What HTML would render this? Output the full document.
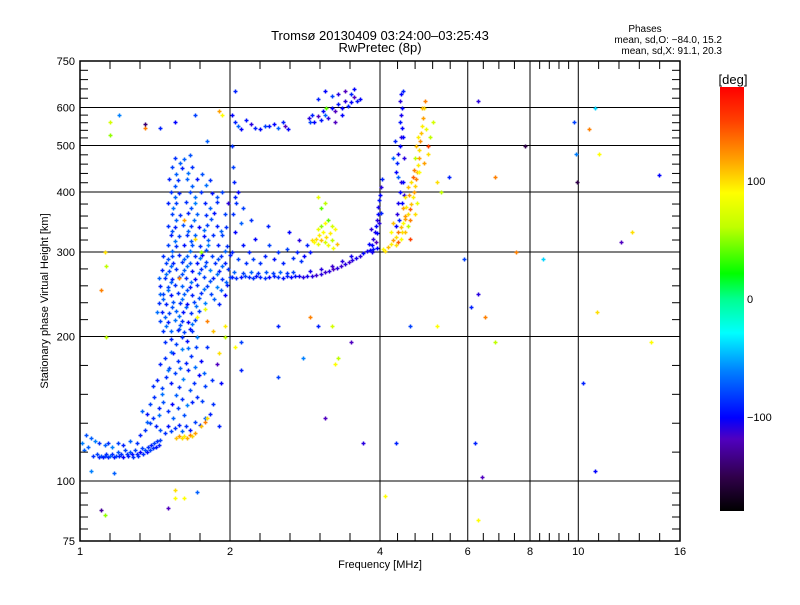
<!DOCTYPE html>
<html><head><meta charset="utf-8"><style>
body{margin:0;background:#fff;}
svg text{font-family:"Liberation Sans",sans-serif;fill:#000;}
</style></head><body>
<svg id="chart" width="800" height="600" xmlns="http://www.w3.org/2000/svg">
<defs>
<linearGradient id="cmap" x1="0" y1="1" x2="0" y2="0">
<stop offset="0" stop-color="#000000"/><stop offset="0.08" stop-color="#30004a"/><stop offset="0.17" stop-color="#5000c0"/><stop offset="0.22" stop-color="#0000ff"/><stop offset="0.33" stop-color="#0080ff"/><stop offset="0.42" stop-color="#00ffff"/><stop offset="0.5" stop-color="#00ff90"/><stop offset="0.56" stop-color="#00ff00"/><stop offset="0.67" stop-color="#c0ff00"/><stop offset="0.75" stop-color="#ffff00"/><stop offset="0.83" stop-color="#ffa000"/><stop offset="0.92" stop-color="#ff4000"/><stop offset="1" stop-color="#ff0000"/>
</linearGradient>
</defs>
<text x="380" y="40" font-size="13" text-anchor="middle">Tromsø 20130409 03:24:00–03:25:43</text>
<text x="380" y="52" font-size="13" text-anchor="middle">RwPretec (8p)</text>
<text x="645" y="32" font-size="10" text-anchor="middle">Phases</text>
<text x="722" y="43" font-size="10" text-anchor="end">mean, sd,O: −84.0, 15.2</text>
<text x="722" y="54" font-size="10" text-anchor="end">mean, sd,X:  91.1, 20.3</text>
<g id="grid"></g>
<g id="marks"></g>
<rect x="80" y="61" width="600" height="480" fill="none" stroke="#000" stroke-width="1.5"/>
<g id="axes"></g>
<text x="380" y="568" font-size="11" text-anchor="middle">Frequency [MHz]</text>
<text x="48" y="301" font-size="11" text-anchor="middle" transform="rotate(-90 48 301)">Stationary phase Virtual Height [km]</text>
<rect x="720" y="87" width="24" height="424" fill="url(#cmap)"/>
<text x="733" y="84" font-size="13" text-anchor="middle">[deg]</text>
<g id="cbar"></g>
</svg>
<script>
const xTicks=[1,2,4,6,8,10,16];
const xMinorDiv=[5,5,5,4,5,5];
const yTicks=[75,100,200,300,400,500,600,750];
const cbarTicks=[100,0,-100];
const lowTrace=[[1.01,120,-60],[1.02,116,-70],[1.03,125,-75],[1.04,118,-70],[1.06,113,-85],[1.08,114,-80],[1.09,112,-90],[1.10,113,-75],[1.11,112,-95],[1.12,113,-80],[1.13,114,-85],[1.14,112,-90],[1.15,113,-70],[1.16,114,-85],[1.17,112,-95],[1.18,113,-80],[1.19,115,-75],[1.20,113,-90],[1.21,114,-85],[1.22,112,-100],[1.23,116,-80],[1.24,114,-85],[1.25,113,-90],[1.26,115,-75],[1.27,114,-95],[1.28,112,-85],[1.29,116,-80],[1.30,114,-90],[1.31,113,-85],[1.32,115,-100],[1.33,117,-80],[1.34,114,-85],[1.35,116,-75],[1.36,115,-95],[1.37,118,-85],[1.38,116,-80],[1.39,119,-90],[1.40,117,-85],[1.41,120,-80],[1.42,118,-95],[1.43,121,-85],[1.44,119,-90],[1.45,122,-80],[1.05,123,-70],[1.07,121,-60],[1.09,120,-85],[1.12,119,-70],[1.14,120,-85],[1.16,118,-60],[1.19,120,-80],[1.22,119,-90],[1.26,121,-70],[1.30,120,-85]];
const lowerCloud=[[1.32,125,-90],[1.35,128,-85],[1.38,132,-80],[1.33,140,-70],[1.36,138,-95],[1.40,135,-85],[1.42,130,-90],[1.45,128,-75],[1.48,126,-85],[1.50,130,-95],[1.52,127,-80],[1.55,129,-85],[1.58,131,-90],[1.60,127,-70],[1.63,130,-85],[1.66,128,-95],[1.70,133,-80],[1.74,131,-85],[1.78,135,-70],[1.82,138,-90],[1.38,145,-80],[1.41,150,-85],[1.44,142,-90],[1.47,146,-75],[1.50,140,-85],[1.53,145,-100],[1.57,142,-80],[1.60,148,-85],[1.64,144,-60],[1.68,146,-90],[1.72,150,-85],[1.76,147,-80],[1.40,158,-85],[1.43,162,-90],[1.46,156,-80],[1.49,165,-85],[1.52,160,-95],[1.55,168,-80],[1.58,157,-85],[1.61,163,-60],[1.65,170,-90],[1.69,160,-85],[1.73,166,-100],[1.78,158,-80],[1.84,162,-85],[1.45,175,-90],[1.48,180,-85],[1.51,172,-80],[1.54,185,-95],[1.57,178,-85],[1.60,188,-60],[1.63,176,-90],[1.67,182,-85],[1.71,190,-80],[1.75,178,-100],[1.48,195,-85],[1.52,198,-90],[1.56,193,-80],[1.60,200,-85],[1.64,196,-95],[1.68,205,-85],[1.72,200,-60],[1.85,145,-85],[1.90,130,-90],[1.88,175,-120],[1.92,160,-100],[1.80,190,-85],[1.56,123,110],[1.58,124,120],[1.60,123,100],[1.62,124,95],[1.64,123,115],[1.66,125,130],[1.68,124,105],[1.70,126,120],[1.75,130,110],[1.78,133,130],[1.80,135,100],[1.72,220,90],[1.80,215,130],[1.85,205,110],[1.90,185,100],[1.78,228,80],[1.95,210,95],[1.36,133,-70],[1.44,137,-65],[1.54,135,-70],[1.62,137,-75],[1.46,152,-65],[1.56,151,-70],[1.66,155,-75],[1.50,170,-65],[1.59,172,-70],[1.70,173,-65],[1.52,186,-70],[1.65,189,-65],[1.77,168,-70],[1.58,207,-70]];
const mainCloud=[[1.47,205,-85],[1.52,205,-70],[1.57,206,-90],[1.62,204,-80],[1.66,207,-95],[1.45,215,-80],[1.50,214,-90],[1.55,216,-65],[1.60,215,-85],[1.65,214,-100],[1.70,216,-80],[1.46,225,-90],[1.51,224,-80],[1.56,226,-70],[1.61,225,-95],[1.67,224,-85],[1.73,226,-80],[1.44,235,-85],[1.49,234,-90],[1.54,236,-75],[1.59,235,-85],[1.64,234,-100],[1.69,236,-80],[1.78,235,-60],[1.90,234,-90],[1.47,245,-80],[1.52,244,-95],[1.57,246,-85],[1.62,245,-70],[1.68,244,-90],[1.75,246,-85],[1.83,245,-80],[1.95,244,-100],[1.45,255,-90],[1.50,254,-80],[1.55,256,-85],[1.60,255,-70],[1.66,254,-95],[1.72,256,-85],[1.80,255,-80],[1.88,254,-60],[1.97,256,-90],[1.48,265,-85],[1.53,264,-90],[1.58,266,-75],[1.63,265,-85],[1.70,264,-100],[1.77,266,-80],[1.85,265,-90],[1.93,264,-85],[2.00,266,-80],[1.46,275,-90],[1.51,274,-80],[1.56,276,-85],[1.62,275,-70],[1.68,274,-95],[1.75,276,-85],[1.82,275,-60],[1.90,274,-90],[1.98,276,-85],[1.49,285,-80],[1.54,284,-90],[1.60,286,-85],[1.66,285,-75],[1.72,284,-95],[1.79,286,-80],[1.87,285,-85],[1.95,284,-90],[1.47,295,-85],[1.53,294,-80],[1.58,296,-90],[1.64,295,-70],[1.70,294,-85],[1.76,296,-100],[1.84,295,-80],[1.92,294,-85],[2.00,296,-90],[1.50,310,-80],[1.56,309,-85],[1.62,311,-95],[1.68,310,-75],[1.74,309,-85],[1.81,311,-60],[1.89,310,-90],[1.97,309,-85],[1.52,325,-90],[1.58,324,-80],[1.64,326,-85],[1.70,325,-70],[1.77,324,-95],[1.85,326,-85],[1.93,325,-80],[1.50,340,-85],[1.55,339,-90],[1.61,341,-75],[1.67,340,-85],[1.73,339,-100],[1.80,341,-80],[1.88,340,-90],[1.96,339,-85],[1.53,360,-80],[1.59,359,-85],[1.65,361,-90],[1.72,360,-70],[1.79,359,-85],[1.86,361,-95],[1.95,360,-80],[1.50,380,-90],[1.56,379,-80],[1.63,381,-85],[1.70,380,-60],[1.78,379,-90],[1.88,381,-85],[1.98,380,-110],[1.52,400,-85],[1.58,399,-90],[1.66,401,-80],[1.75,400,-85],[1.84,399,-95],[1.93,401,-80],[1.51,425,-90],[1.57,424,-85],[1.64,426,-70],[1.72,425,-95],[1.82,424,-85],[1.53,450,-80],[1.60,449,-90],[1.68,451,-85],[1.55,470,-85],[1.62,469,-70],[1.58,265,130],[1.70,320,100],[1.62,350,120],[1.75,300,50]];
const mainCloudFill=[[1.49,210,-65],[1.59,211,-75],[1.68,212,-65],[1.48,220,-70],[1.58,221,-65],[1.63,230,-70],[1.53,230,-75],[1.71,231,-65],[1.47,240,-70],[1.60,240,-65],[1.73,241,-75],[1.86,240,-70],[1.50,250,-65],[1.64,250,-75],[1.77,251,-65],[1.92,250,-70],[1.52,260,-70],[1.67,260,-65],[1.82,261,-75],[1.96,260,-70],[1.49,270,-65],[1.60,270,-75],[1.73,271,-70],[1.88,270,-65],[1.52,280,-70],[1.64,280,-65],[1.78,281,-75],[1.93,280,-70],[1.50,290,-75],[1.62,290,-70],[1.74,291,-65],[1.89,290,-75],[1.53,302,-70],[1.66,302,-65],[1.79,303,-75],[1.95,302,-70],[1.55,317,-65],[1.67,317,-75],[1.81,318,-70],[1.53,332,-75],[1.65,332,-70],[1.77,333,-65],[1.92,332,-70],[1.56,350,-70],[1.69,350,-65],[1.83,351,-75],[1.54,370,-65],[1.67,370,-75],[1.82,371,-70],[1.55,390,-70],[1.70,390,-65],[1.88,391,-75],[1.55,412,-75],[1.68,412,-70],[1.79,413,-65],[1.56,437,-70],[1.65,438,-65],[1.76,437,-75],[1.59,460,-70],[1.66,478,-75],[1.45,245,-70],[1.43,225,-65],[1.44,265,-70]];
const fTrace=[[2.02,266,-90],[2.06,265,-85],[2.10,266,-95],[2.14,267,-80],[2.18,266,-90],[2.22,265,-85],[2.26,267,-95],[2.30,266,-90],[2.35,265,-85],[2.40,266,-100],[2.45,267,-90],[2.50,266,-85],[2.55,265,-95],[2.60,267,-90],[2.65,266,-100],[2.70,268,-95],[2.75,267,-105],[2.80,266,-110],[2.86,267,-105],[2.92,268,-110],[2.98,269,-115],[3.04,270,-110],[3.10,272,-115],[3.16,274,-110],[3.22,276,-120],[3.28,278,-110],[3.34,280,-115],[3.40,283,-110],[3.46,286,-115],[3.52,289,-110],[3.58,292,-105],[3.64,295,-110],[3.70,298,-100],[3.76,301,-105],[3.82,303,-100],[3.88,305,-95],[3.94,306,-100],[2.04,272,-70],[2.12,271,-80],[2.20,272,-70],[2.28,271,-85],[2.36,272,-75],[2.44,271,-80],[2.52,272,-70],[2.60,271,-85],[2.68,272,-80],[2.90,274,-105],[3.05,276,-110],[3.20,281,-115],[3.35,287,-110],[3.50,294,-105]];
const fScatter=[[2.02,300,-90],[2.05,330,-100],[2.03,360,-85],[2.08,290,-80],[2.12,310,-95],[2.10,345,-70],[2.15,285,-85],[2.18,300,-90],[2.22,290,-80],[2.25,320,-100],[2.30,285,-85],[2.35,295,-90],[2.40,310,-80],[2.45,290,-95],[2.50,300,-85],[2.55,285,-90],[2.60,305,-80],[2.63,330,-100],[2.68,292,-85],[2.72,300,-90],[2.75,318,-110],[2.78,288,-85],[2.82,295,-100],[2.85,310,-90],[2.90,300,-95],[2.06,380,-85],[2.04,420,-90],[2.03,450,-80],[2.08,400,-100],[2.02,500,-85],[2.05,390,-90],[2.12,370,-80],[2.20,350,-85],[2.38,340,-90]];
const vertTraces=[[3.85,310,-100],[3.88,320,-110],[3.90,330,-105],[3.92,340,-100],[3.94,350,-110],[3.96,360,-100],[3.97,372,-105],[3.98,385,-95],[4.00,395,-100],[4.02,410,-110],[4.03,425,-90],[3.92,315,-120],[3.95,328,-100],[3.99,345,-110],[4.01,362,-90],[3.86,300,-105],[3.80,312,-100],[3.84,335,-110],[4.30,340,-100],[4.32,360,-110],[4.35,380,-105],[4.38,400,-100],[4.40,420,-110],[4.30,440,-100],[4.32,460,-90],[4.35,480,-105],[4.38,500,-100],[4.40,520,-110],[4.42,545,-100],[4.38,560,-95],[4.40,580,-105],[4.42,600,-100],[4.38,620,-110],[4.40,640,-100],[4.44,650,-90],[4.25,470,-70],[4.28,510,-90],[4.45,420,-100],[4.47,470,-110],[4.45,520,-100],[4.36,350,-90],[4.42,380,-100],[4.46,395,-110],[4.35,430,-70]];
const xTrace=[[4.05,305,90],[4.10,302,100],[4.15,308,110],[4.20,312,95],[4.25,318,120],[4.30,322,100],[4.35,330,130],[4.40,338,110],[4.45,345,90],[4.50,352,120],[4.55,360,100],[4.60,368,140],[4.62,378,110],[4.65,390,95],[4.68,400,120],[4.70,412,105],[4.72,425,130],[4.74,440,110],[4.76,455,95],[4.78,470,120],[4.80,490,100],[4.82,510,125],[4.84,530,110],[4.86,550,95],[4.88,570,120],[4.90,600,100],[4.92,620,130],[4.30,310,100],[4.40,320,90],[4.50,330,110],[4.55,340,60],[4.60,350,130],[4.70,360,100],[4.75,380,80],[4.45,370,120],[4.50,390,95],[4.55,410,110],[4.65,430,140],[4.70,470,60],[4.80,440,90],[4.90,460,120],[5.00,480,100],[4.95,540,80],[5.05,520,60],[4.85,600,110],[4.60,320,150],[4.35,315,140],[4.42,330,100],[4.20,330,90],[4.25,345,110],[4.48,356,120],[4.52,372,95],[4.58,395,120],[4.62,420,100],[4.68,445,130],[4.72,500,110],[4.76,520,95],[5.10,560,70],[5.00,500,150]];
const yellowCluster=[[2.95,315,90],[2.98,320,100],[3.00,312,80],[3.02,325,95],[3.05,318,110],[3.08,330,90],[3.10,315,70],[3.12,322,100],[3.15,310,85],[3.18,328,95],[3.20,318,60],[3.00,335,80],[3.05,340,50],[3.10,345,90],[3.15,350,40],[3.20,340,70],[3.25,335,90],[2.92,318,100],[3.22,306,85],[3.28,312,110],[3.05,370,40],[3.10,380,60],[3.00,390,80]];
const topCluster=[[2.88,570,-110],[2.92,580,-90],[2.95,560,-100],[3.00,575,-120],[3.05,565,-95],[3.08,590,-100],[3.10,580,-70],[3.15,570,-110],[3.20,600,-100],[3.25,590,-120],[3.30,610,-95],[3.35,600,-100],[3.40,620,-110],[3.45,605,-90],[3.50,615,-100],[3.55,630,-120],[3.60,620,-95],[3.65,625,-100],[3.30,640,-110],[3.20,635,-80],[3.00,625,-90],[3.10,650,-100],[3.40,650,-120],[3.50,640,-90],[3.55,655,-100],[3.25,560,-120],[3.35,580,-100],[2.90,560,-80],[3.12,598,40],[2.02,580,-100],[2.05,560,-90],[2.08,550,-70],[2.10,540,-100],[2.15,565,-95],[2.20,555,-110],[2.25,545,-90],[2.30,540,-100],[2.35,550,-80],[2.40,548,-95],[2.45,555,-100],[2.50,545,-70],[2.55,560,-90],[2.58,550,-120],[2.62,540,-100],[2.05,650,-90]];
const strayEchoes=[[1.15,560,70],[1.20,580,-60],[1.35,555,-140],[1.35,545,130],[1.45,545,-90],[1.55,560,-100],[1.70,580,-80],[1.90,590,120],[1.93,580,90],[1.80,510,-70],[1.15,525,50],[1.12,300,100],[1.13,200,60],[1.10,250,130],[1.13,280,60],[1.05,105,-60],[1.17,104,-70],[1.10,87,-130],[1.12,85,50],[1.50,88,-120],[1.55,92,90],[1.62,92,90],[1.55,96,100],[1.72,95,-70],[4.10,93,90],[4.30,120,-90],[5.20,420,100],[5.30,400,60],[5.50,430,-90],[5.90,290,-80],[6.30,620,-110],[6.30,245,-110],[6.50,220,130],[6.10,230,-90],[6.20,120,-90],[6.40,102,-120],[6.30,83,90],[6.80,430,130],[6.80,195,60],[7.50,300,130],[7.80,500,-150],[8.50,290,-40],[9.80,560,-80],[9.90,480,-60],[9.95,420,-150],[10.2,160,-90],[10.5,540,130],[10.8,600,-40],[10.9,225,100],[10.8,105,-100],[11.0,480,90],[12.2,315,-120],[14.0,195,90],[14.5,435,-100],[12.8,330,100],[4.60,210,-80],[5.20,210,90],[3.30,180,60],[3.25,175,90],[3.50,195,-120],[2.90,220,130],[3.00,210,-90],[2.50,210,-90],[2.10,195,-80],[2.05,190,90],[2.10,170,-90],[2.50,165,-80],[1.95,200,60],[3.20,210,70],[3.70,120,-110],[2.80,180,-60],[3.10,135,-120]];

const X0=80,X1=680,Y0=61,Y1=541;
function xScale(f){return X0+150*Math.log2(f);}
function yScale(h){return Y1-480*Math.log10(h/75);}
function cScale(p){return 299-(p/180)*212;}
const stops=[[-180,[0,0,0]],[-150,[48,0,74]],[-120,[80,0,192]],[-100,[0,0,255]],[-60,[0,128,255]],[-30,[0,255,255]],[0,[0,255,144]],[20,[0,255,0]],[60,[192,255,0]],[90,[255,255,0]],[120,[255,160,0]],[150,[255,64,0]],[180,[255,0,0]]];
function color(p){for(let i=1;i<stops.length;i++){if(p<=stops[i][0]){const a=stops[i-1],b=stops[i],t=(p-a[0])/(b[0]-a[0]);const c=a[1].map((v,k)=>Math.round(v+(b[1][k]-v)*t));return 'rgb('+c.join(',')+')';}}return 'rgb(255,0,0)';}
const NS='http://www.w3.org/2000/svg';
function mk(tag,attrs,parent){const e=document.createElementNS(NS,tag);for(const k in attrs)e.setAttribute(k,attrs[k]);parent.appendChild(e);return e;}
const grid=document.getElementById('grid'),axes=document.getElementById('axes'),marks=document.getElementById('marks'),cbar=document.getElementById('cbar');
xTicks.forEach((t,i)=>{const x=xScale(t);
 if(i>0&&i<xTicks.length-1){const gl=mk('line',{x1:x,x2:x,y1:Y0,y2:Y1,stroke:'#000','stroke-width':1},grid);
 
 }
 const tl=mk('text',{x:x,y:555,'font-size':11,'text-anchor':'middle'},axes);tl.textContent=t;
 
 
 if(i<xTicks.length-1){const n=xMinorDiv[i],xa=x,xb=xScale(xTicks[i+1]);for(let k=1;k<n;k++){const xm=xa+(xb-xa)*k/n;
  const m1=mk('line',{x1:xm,x2:xm,y1:Y0,y2:Y0+8,stroke:'#000'},axes);
  
  
  const m2=mk('line',{x1:xm,x2:xm,y1:Y1,y2:Y1-8,stroke:'#000'},axes);
  
  }}
});
yTicks.forEach((t,i)=>{const y=yScale(t);
 if(i>0&&i<yTicks.length-1){const gl=mk('line',{x1:X0,x2:X1,y1:y,y2:y,stroke:'#000','stroke-width':1},grid);
 
 }
 const tl=mk('text',{x:75,y:y+4,'font-size':11,'text-anchor':'end'},axes);tl.textContent=t;
 
 
 if(i<yTicks.length-1){const ya=y,yb=yScale(yTicks[i+1]),n=5;for(let k=1;k<n;k++){const ym=ya+(yb-ya)*k/n;
  const m1=mk('line',{x1:X0,x2:X0+8,y1:ym,y2:ym,stroke:'#000'},axes);
  
  
  const m2=mk('line',{x1:X1,x2:X1-8,y1:ym,y2:ym,stroke:'#000'},axes);
  
  }}
});
[lowTrace,lowerCloud,mainCloud,mainCloudFill,fTrace,fScatter,vertTraces,xTrace,yellowCluster,topCluster,strayEchoes].forEach(set=>{
 set.forEach(d=>{const x=Math.round(xScale(d[0]))+0.5,y=Math.round(yScale(d[1]))+0.5;
  const p=mk('path',{d:'M'+(x-2)+' '+y+'h4M'+x+' '+(y-2)+'v4',stroke:color(d[2]),'stroke-width':1.5,fill:'none'},marks);
  
  
 });
});
cbarTicks.forEach(t=>{const y=cScale(t);
 const tk=mk('text',{x:747,y:y+4,'font-size':11},cbar);tk.textContent=t===-100?'−100':t;
 
 
});
</script>
</body></html>
